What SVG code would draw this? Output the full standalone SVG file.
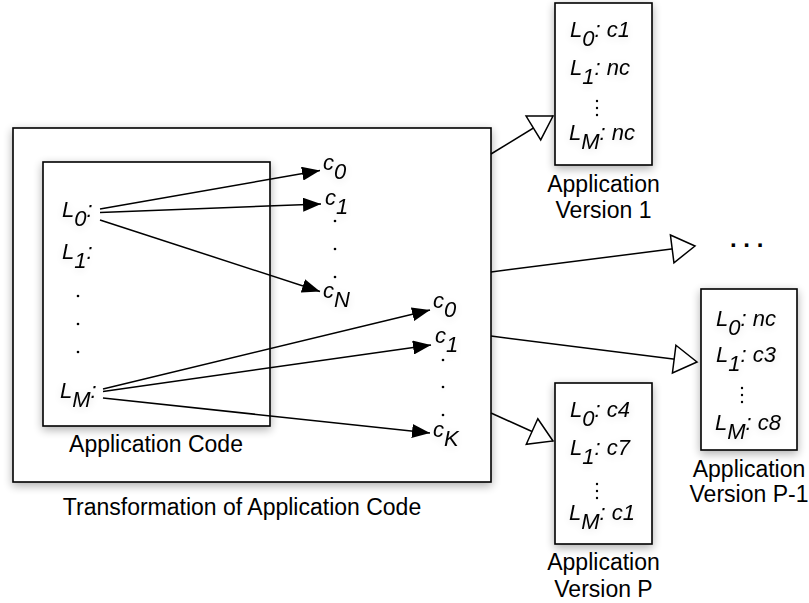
<svg xmlns="http://www.w3.org/2000/svg" width="809" height="603" viewBox="0 0 809 603">
<style>
.box{fill:#fff;stroke:#000;stroke-width:1.6}
.lbl{font-family:"Liberation Sans",Arial,sans-serif;font-size:23px;fill:#000}
.it{font-family:"Liberation Sans",Arial,sans-serif;font-size:22px;font-style:italic;fill:#000}
.ln{fill:none;stroke:#000;stroke-width:1.5}
.dot{fill:#000}
</style>
<defs>
<filter id="sh" x="-20%" y="-20%" width="140%" height="140%">
<feGaussianBlur in="SourceAlpha" stdDeviation="5"/>
<feOffset dy="3" result="b"/>
<feComponentTransfer><feFuncA type="linear" slope="0.32"/></feComponentTransfer>
<feMerge><feMergeNode/><feMergeNode in="SourceGraphic"/></feMerge>
</filter>
<filter id="tsh" x="-30%" y="-30%" width="160%" height="160%">
<feGaussianBlur in="SourceAlpha" stdDeviation="4"/>
<feOffset dy="2"/>
<feComponentTransfer><feFuncA type="linear" slope="0.12"/></feComponentTransfer>
<feMerge><feMergeNode/><feMergeNode in="SourceGraphic"/></feMerge>
</filter>
<marker id="fa" viewBox="0 0 18 14" refX="18" refY="7" markerWidth="18" markerHeight="14" markerUnits="userSpaceOnUse" orient="auto">
<path d="M0,0 L18,7 L0,14 z" fill="#000"/>
</marker>
<marker id="oa" viewBox="-2 -2 27 32" refX="23" refY="14" markerWidth="27" markerHeight="32" markerUnits="userSpaceOnUse" orient="auto" overflow="visible">
<path d="M0,0 L23,14 L0,28 z" fill="#fff" stroke="#000" stroke-width="1.5"/>
</marker>
</defs>

<g id="transformation">
<rect class="box" x="13" y="128" width="478" height="354" filter="url(#sh)"/>
<text class="lbl" x="242" y="515" text-anchor="middle">Transformation of Application Code</text>
</g>

<g id="application-code">
<rect class="box" x="43" y="162" width="227" height="264" filter="url(#sh)"/>
<text class="lbl" x="156" y="452" text-anchor="middle">Application Code</text>
<g filter="url(#tsh)">
<text class="it" x="62" y="217">L<tspan dy="9">0</tspan><tspan dy="-9">:</tspan></text>
<text class="it" x="62" y="259">L<tspan dy="9">1</tspan><tspan dy="-9">:</tspan></text>
<text class="it" x="60" y="398">L<tspan dy="9">M</tspan><tspan dy="-9">:</tspan></text>
</g>
<circle class="dot" cx="78" cy="296" r="1.3"/>
<circle class="dot" cx="78" cy="324" r="1.3"/>
<circle class="dot" cx="78" cy="352" r="1.3"/>
</g>

<g id="choices-L0" filter="url(#tsh)">
<text class="it" x="323" y="170">c<tspan dy="9">0</tspan></text>
<text class="it" x="325" y="205">c<tspan dy="9">1</tspan></text>
<text class="it" x="323" y="298">c<tspan dy="9">N</tspan></text>
<circle class="dot" cx="335" cy="221" r="1.3"/>
<circle class="dot" cx="335" cy="249" r="1.3"/>
<circle class="dot" cx="335" cy="277" r="1.3"/>
</g>

<g id="choices-LM" filter="url(#tsh)">
<text class="it" x="433" y="308">c<tspan dy="9">0</tspan></text>
<text class="it" x="435" y="343">c<tspan dy="9">1</tspan></text>
<text class="it" x="433" y="437">c<tspan dy="9">K</tspan></text>
<circle class="dot" cx="443" cy="360" r="1.3"/>
<circle class="dot" cx="443" cy="387" r="1.3"/>
<circle class="dot" cx="443" cy="415" r="1.3"/>
</g>

<g id="version-1">
<rect class="box" x="555" y="3" width="97" height="162" filter="url(#sh)"/>
<g filter="url(#tsh)">
<text class="it" x="600" y="37" text-anchor="middle">L<tspan dy="9">0</tspan><tspan dy="-9">: c1</tspan></text>
<text class="it" x="600" y="75" text-anchor="middle">L<tspan dy="9">1</tspan><tspan dy="-9">: nc</tspan></text>
<text class="it" x="602" y="140" text-anchor="middle">L<tspan dy="9">M</tspan><tspan dy="-9">: nc</tspan></text>
</g>
<circle class="dot" cx="597" cy="101" r="1.2"/>
<circle class="dot" cx="597" cy="108" r="1.2"/>
<circle class="dot" cx="597" cy="115" r="1.2"/>
<text class="lbl" x="603.5" y="192" text-anchor="middle">Application</text>
<text class="lbl" x="603.5" y="218" text-anchor="middle">Version 1</text>
</g>

<g id="ellipsis">
<text class="lbl" x="730" y="247" style="font-size:24px;font-weight:bold">. . .</text>
</g>

<g id="version-P-1">
<rect class="box" x="701" y="289" width="96" height="161" filter="url(#sh)"/>
<g filter="url(#tsh)">
<text class="it" x="746" y="326" text-anchor="middle">L<tspan dy="9">0</tspan><tspan dy="-9">: nc</tspan></text>
<text class="it" x="746" y="362" text-anchor="middle">L<tspan dy="9">1</tspan><tspan dy="-9">: c3</tspan></text>
<text class="it" x="748" y="430" text-anchor="middle">L<tspan dy="9">M</tspan><tspan dy="-9">: c8</tspan></text>
</g>
<circle class="dot" cx="742" cy="388" r="1.2"/>
<circle class="dot" cx="742" cy="395" r="1.2"/>
<circle class="dot" cx="742" cy="402" r="1.2"/>
<text class="lbl" x="749" y="477" text-anchor="middle">Application</text>
<text class="lbl" x="749" y="502" text-anchor="middle">Version P-1</text>
</g>

<g id="version-P">
<rect class="box" x="555" y="383" width="97" height="161" filter="url(#sh)"/>
<g filter="url(#tsh)">
<text class="it" x="600" y="417" text-anchor="middle">L<tspan dy="9">0</tspan><tspan dy="-9">: c4</tspan></text>
<text class="it" x="600" y="455" text-anchor="middle">L<tspan dy="9">1</tspan><tspan dy="-9">: c7</tspan></text>
<text class="it" x="602" y="520" text-anchor="middle">L<tspan dy="9">M</tspan><tspan dy="-9">: c1</tspan></text>
</g>
<circle class="dot" cx="597" cy="484" r="1.2"/>
<circle class="dot" cx="597" cy="491" r="1.2"/>
<circle class="dot" cx="597" cy="498" r="1.2"/>
<text class="lbl" x="603.5" y="570" text-anchor="middle">Application</text>
<text class="lbl" x="603.5" y="597" text-anchor="middle">Version P</text>
</g>

<g id="connectors">
<line class="ln" x1="100" y1="209" x2="320" y2="170.5" marker-end="url(#fa)"/>
<line class="ln" x1="100" y1="212.5" x2="321" y2="204" marker-end="url(#fa)"/>
<line class="ln" x1="100" y1="220" x2="320" y2="291.5" marker-end="url(#fa)"/>
<line class="ln" x1="103" y1="389" x2="430" y2="310" marker-end="url(#fa)"/>
<line class="ln" x1="103" y1="391.5" x2="431" y2="345" marker-end="url(#fa)"/>
<line class="ln" x1="103" y1="398" x2="430" y2="433" marker-end="url(#fa)"/>
<line class="ln" x1="491" y1="154" x2="553" y2="116" marker-end="url(#oa)"/>
<line class="ln" x1="491" y1="272" x2="695" y2="246" marker-end="url(#oa)"/>
<line class="ln" x1="491" y1="336" x2="697" y2="362" marker-end="url(#oa)"/>
<line class="ln" x1="491" y1="413" x2="553" y2="441" marker-end="url(#oa)"/>
</g>
</svg>
